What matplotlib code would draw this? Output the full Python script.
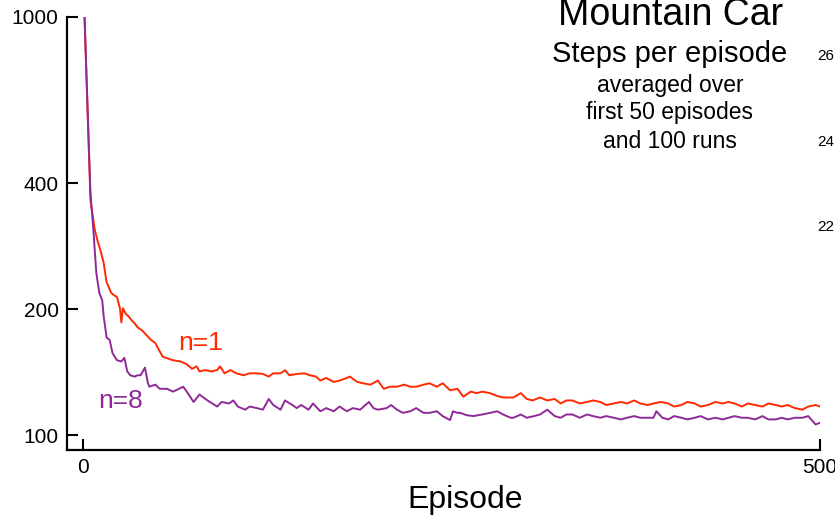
import matplotlib.pyplot as plt

plt.rcParams['font.family'] = ['Liberation Sans', 'DejaVu Sans']

# n=1 (red) - steps per episode
ep_n1 = [1, 5, 8, 10, 12, 14, 15, 16, 19, 21, 23, 25, 26, 27, 29, 31, 33, 35, 37, 40,
         42, 44, 46, 49, 51, 54, 61, 66, 70, 74, 77, 79, 83, 87, 91, 93, 96, 100, 104, 109,
         113, 118, 122, 126, 129, 134, 137, 140, 145, 150, 154, 158, 161, 165, 170, 174, 179, 181, 186, 190,
         195, 200, 204, 208, 213, 218, 222, 226, 231, 235, 240, 244, 249, 254, 258, 263, 267, 271, 276, 281,
         285, 290, 292, 297, 301, 305, 310, 315, 320, 324, 328, 332, 337, 342, 346, 351, 355, 360, 365, 369,
         374, 378, 383, 387, 392, 397, 401, 406, 410, 415, 419, 424, 429, 434, 438, 442, 447, 451, 456, 461,
         465, 470, 474, 478, 483, 488, 492, 497, 500]
steps_n1 = [1000, 365, 309, 290, 275, 258, 244, 232, 219, 216, 214, 201, 186, 201, 195, 192, 188, 185, 181, 178,
            175, 172, 169, 166, 161, 154, 151, 150, 148, 144, 146, 142, 143, 142, 143, 146, 140.5, 143, 140.5, 139,
            140.5, 140.5, 140, 138, 140.5, 140.5, 143, 139, 140, 140.5, 139, 138, 135, 137, 134, 135, 137, 138, 134, 133,
            132, 135, 129, 130.5, 130.5, 132, 130.5, 130.5, 132, 133, 130.5, 133, 128, 129, 123.5, 127, 126, 127, 126, 124,
            123, 123, 123, 126, 122, 121, 123, 121, 122, 119, 121, 121, 119, 120, 121, 120, 118, 119, 120, 119,
            121, 119, 118, 119, 120, 119, 117, 118, 120, 119, 117, 118, 120, 119, 120, 119, 117, 119, 118, 117,
            119, 118, 117, 118, 116, 115, 117, 118, 117]

# n=8 (purple)
ep_n8 = [1, 5, 7, 9, 11, 13, 14, 16, 18, 20, 23, 26, 28, 30, 32, 35, 37, 39, 42, 44,
         45, 49, 52, 57, 61, 65, 68, 71, 75, 79, 83, 86, 91, 94, 99, 102, 105, 110, 113, 118,
         122, 126, 129, 134, 137, 142, 145, 148, 153, 156, 161, 165, 170, 174, 179, 183, 188, 194, 197, 200,
         206, 209, 213, 217, 222, 226, 231, 235, 240, 244, 249, 251, 254, 256, 260, 265, 268, 271, 276, 281,
         285, 290, 292, 297, 301, 306, 310, 315, 320, 324, 328, 332, 337, 342, 346, 351, 355, 360, 365, 369,
         374, 378, 383, 387, 389, 393, 397, 401, 406, 410, 415, 419, 424, 429, 434, 438, 442, 447, 451, 456,
         461, 465, 470, 474, 478, 483, 488, 492, 497, 500]
steps_n8 = [1000, 380, 309, 244, 219, 210, 192, 171, 169, 157, 151, 150, 153, 142, 139, 138, 139, 139, 145, 133,
            130.5, 132, 129, 129, 127, 129, 130.5, 126, 120, 125, 122, 120, 117, 120, 119, 121, 117, 115, 117, 116,
            115, 122, 118, 115, 121, 118, 116, 118, 115, 119, 114, 116, 114, 117, 114, 116, 115, 120, 116, 115,
            116, 118, 115, 113, 114, 116, 113, 113, 114, 111, 108.6, 114, 113, 113, 111.6, 111, 111.6, 112, 113, 114,
            112, 110, 110, 112, 110, 111, 112, 115, 111, 110, 112, 112, 110, 112, 111, 110, 111, 110, 109, 110,
            111, 110, 110, 110, 114, 110, 109, 111, 110, 109, 110, 111, 109, 110, 109, 110, 111, 110, 110, 109,
            111, 109, 109, 110, 109, 110, 110, 111, 106, 107]

yticks = [100, 200, 400, 1000]
xticks = [0, 500]

W, H = 835, 515
fig = plt.figure(figsize=(W / 100, H / 100), dpi=100)
ax = fig.add_axes([67 / W, 1 - 450 / H, (820 - 67) / W, (450 - 17) / H])

ax.plot(ep_n1, steps_n1, color='#ff2a00', linewidth=1.4)
ax.plot(ep_n8, steps_n8, color='#8e2a97', linewidth=1.4)

ax.set_yscale('log')
ax.set_xlim(-10.9, 500)
ax.set_ylim(92.1, 1000)
ax.set_yticks(yticks)
ax.set_yticklabels([str(t) for t in yticks])
ax.minorticks_off()
ax.set_xticks(xticks)
ax.set_xticklabels([str(t) for t in xticks])
ax.tick_params(direction='in', length=8, width=1.5, labelsize=15, pad=6)

for s in ['top', 'right']:
    ax.spines[s].set_visible(False)
for s in ['left', 'bottom']:
    ax.spines[s].set_linewidth(1.6)

# etichetele seriilor
ax.text(64.5, 160, 'n=1', color='#ff2a00', fontsize=19)
ax.text(10, 116, 'n=8', color='#8e2a97', fontsize=19)

# titlul din dreapta sus
cx = 670 / W
fig.text(cx, 1 - 25 / H, 'Mountain Car', ha='center', va='baseline', fontsize=27)
fig.text(cx, 1 - 62 / H, 'Steps per episode', ha='center', va='baseline', fontsize=21)
fig.text(cx, 1 - 92 / H, 'averaged over', ha='center', va='baseline', fontsize=16.5)
fig.text(cx, 1 - 119.5 / H, 'first 50 episodes', ha='center', va='baseline', fontsize=16.5)
fig.text(cx, 1 - 147.5 / H, 'and 100 runs', ha='center', va='baseline', fontsize=16.5)

# resturi din graficul vecin, taiate la margine
for lab, yb in [('26', 60), ('24', 146.5), ('22', 231.5)]:
    fig.text(817 / W, 1 - yb / H, lab, ha='left', va='baseline', fontsize=11)

fig.text(465 / W, 1 - 508 / H, 'Episode', ha='center', va='baseline', fontsize=23)

fig.savefig('out.png', dpi=100)
